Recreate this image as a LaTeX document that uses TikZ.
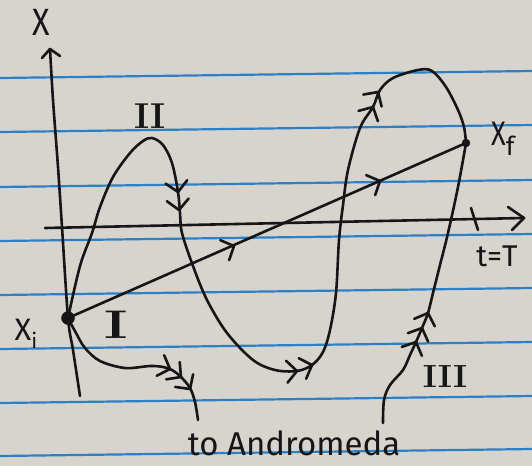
\documentclass[tikz,border=0pt]{standalone}
\usepackage{fontspec}
\setmainfont{Fira Sans}
\newfontfamily\rom{Latin Modern Roman}
\usepackage{graphicx}
\definecolor{paperc}{RGB}{214,212,205}
\definecolor{rulec}{RGB}{45,128,198}
\definecolor{inkc}{RGB}{22,22,22}
\newcommand\chev[3]{\draw[ink] (#1,#2) ++(#3+133:15) -- (#1,#2) -- ++(#3-133:15);}
\newcommand\fs[1]{\fontsize{#1}{#1}\selectfont}
\begin{document}
\begin{tikzpicture}[x=1pt,y=-1pt,
  ink/.style={draw=inkc, line width=2.6pt, line cap=round, line join=round},
  rule/.style={draw=rulec, line width=2.2pt},
  dot/.style={circle, fill=inkc, draw=inkc, inner sep=0pt},
  lbl/.style={text=inkc, inner sep=0pt}]
\fill[paperc] (0,0) rectangle (532,466);
\useasboundingbox (0,0) rectangle (532,466);
% ruled lines of the paper
\foreach \a in {78,132,187,241,295,349,403,456}
  \draw[rule] (0,\a) -- (532,\a-7);
% axes
\coordinate (vb) at (80,396);
\coordinate (vt) at (50,49);
\draw[ink] plot[smooth] coordinates {(vb) (73,350) (68,318) (62,227) (58,167) (53,100) (vt)};
\draw[ink] (42,58) -- (vt) -- (60,56);
\coordinate (hl) at (45,228);
\coordinate (hr) at (524,218);
\draw[ink] (hl) -- (hr);
\draw[ink] (508,207) -- (hr) -- (512,230);
\draw[ink] (471,208) -- (478,230);
% end points
\node[dot, minimum size=13pt] (xi) at (68,318) {};
\node[dot, minimum size=8pt] (xf) at (466,143) {};
% path I
\draw[ink] (xi.center) -- (xf.center);
\chev{234}{246}{-24}
\chev{380}{181}{-24}
% path II
\draw[ink] plot[smooth, tension=0.55] coordinates {(xi.center) (80,266) (92,233) (100,207) (113,177) (130,153) (143,141) (152,138) (163,145) (172,163) (178,192) (180,213) (182,233) (193,266) (207,300) (227,333) (253,360) (275,370) (297,371) (312,365) (323,352) (330,330) (336,293) (339,240) (343,205) (348,170) (360,128) (373,107) (380,90) (393,78) (418,70) (432,71) (446,87) (458,110) (464,127) (xf.center)};
\chev{178}{192}{81}
\chev{179}{210}{83}
\chev{297}{371}{-4}
\chev{312}{365}{-20}
\chev{373}{107}{-62}
\chev{378}{92}{-57}
% path III (to Andromeda and back)
\coordinate (away) at (198,420);
\coordinate (back) at (383,423);
\draw[ink] plot[smooth, tension=0.55] coordinates {(xi.center) (76,333) (85,348) (100,361) (125,368) (150,366) (163,367) (172,370) (181,377) (190,388) (195,402) (away)};
\chev{170}{369}{20}
\chev{181}{377}{38}
\chev{190}{389}{55}
\draw[ink] plot[smooth, tension=0.55] coordinates {(back) (384,400) (390,385) (403,370) (410,355) (416,342) (422,328) (428,313) (433,293) (440,265) (448,233) (458,187) (xf.center)};
\chev{416}{342}{-66}
\chev{422}{328}{-67}
\chev{428}{313}{-70}
% labels
\node[lbl] (lx) at (41,22) {\fs{38}\scalebox{0.85}[1]{X}};
\node[lbl] (lxi) at (26,334) {\fs{31}X\raisebox{-0.25em}{\fs{21}i}};
\node[lbl] (lxf) at (503,139) {\fs{34}\scalebox{0.8}[1]{X}\raisebox{-0.3em}{\fs{26}f}};
\node[lbl] (lI) at (116,325) {\rom\bfseries\fs{40}\scalebox{1.4}[1]{I}};
\node[lbl] (lII) at (150,116) {\rom\bfseries\fs{36}II};
\node[lbl] (lIII) at (445,377) {\rom\bfseries\fs{32}\scalebox{1.05}[1]{III}};
\node[lbl] (ltT) at (497,256) {\fs{30}t=T};
\node[lbl] (land) at (294,443) {\fs{33}to Andromeda};
\end{tikzpicture}
\end{document}
